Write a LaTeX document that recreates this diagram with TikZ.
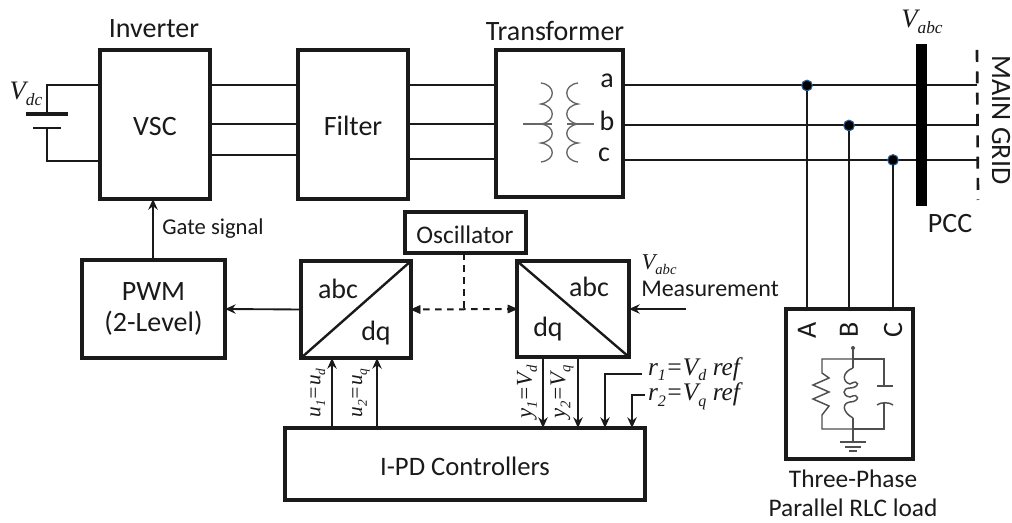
\documentclass[tikz,border=0pt]{standalone}
\usepackage{fontspec}
\setmainfont{Carlito}
\newfontfamily\tf{Liberation Serif}[Ligatures=TeX]
\usetikzlibrary{arrows.meta}
\definecolor{ink}{HTML}{1A1A1A}
\definecolor{coil}{HTML}{666666}
\definecolor{jring}{HTML}{2B5C94}
\newcommand{\fs}[1]{\fontsize{#1}{#1}\selectfont}
\newcommand{\mi}[2]{{\tf\itshape\fs{#1}#2}}
\newcommand{\msub}[3]{{\tf\itshape\fs{#1}#2\raisebox{-0.22em}{\fs{\the\numexpr #1*65/100\relax}#3}}}
\tikzset{
  block/.style={draw=ink,line width=2.6pt,rectangle,outer sep=0pt,inner sep=0pt,fill=white},
  wire/.style={draw=ink,line width=1.5pt},
  sig/.style={draw=ink,line width=1.4pt,-{Stealth[length=8pt,width=7pt]}},
  dsig/.style={draw=ink,line width=1.5pt,dash pattern=on 5pt off 4pt},
  coilline/.style={draw=coil,line width=1pt},
  loadline/.style={draw=coil!70!ink,line width=1.1pt},
  big/.style={font=\fs{21}\color{ink},inner sep=0pt,outer sep=0pt},
  mid/.style={font=\fs{19}\color{ink},inner sep=0pt,outer sep=0pt},
  small/.style={font=\fs{17}\color{ink},inner sep=0pt,outer sep=0pt},
  lab/.style={inner sep=0pt,outer sep=0pt,text=ink},
  junction/.style={circle,fill=black,draw=jring,line width=0.8pt,minimum size=8pt,inner sep=0pt,outer sep=0pt},
}
\begin{document}
\begin{tikzpicture}[x=0.75pt,y=-0.75pt]
\useasboundingbox (0,0) rectangle (1012,523);
\fill[white] (0,0) rectangle (1012,523);
% level helpers
\coordinate (ya) at (0,85);
\coordinate (yb) at (0,124.5);
\coordinate (yc) at (0,155);
\coordinate (yd) at (0,159);
\coordinate (ra) at (0,85.5);
\coordinate (rb) at (0,125.5);
\coordinate (rc) at (0,160);
\coordinate (xa) at (807,0);
\coordinate (xb) at (849,0);
\coordinate (xc) at (893,0);
% blocks
\node[block,minimum width=110pt*0.75,minimum height=149pt*0.75] (vsc) at (155,124.5) {};
\node[block,minimum width=110pt*0.75,minimum height=149pt*0.75] (filter) at (353,124.5) {};
\node[block,minimum width=127pt*0.75,minimum height=147pt*0.75] (trafo) at (559.5,123.5) {};
\node[block,minimum width=121pt*0.75,minimum height=41pt*0.75] (osc) at (465.5,232.5) {};
\node[block,minimum width=110pt*0.75,minimum height=97pt*0.75] (abcl) at (356,309.5) {};
\node[block,minimum width=112pt*0.75,minimum height=96pt*0.75] (abcr) at (573,309) {};
\node[block,minimum width=143pt*0.75,minimum height=98pt*0.75] (pwm) at (153.5,309) {};
\node[block,minimum width=360pt*0.75,minimum height=72pt*0.75] (ipd) at (465,464) {};
\node[block,minimum width=127pt*0.75,minimum height=150pt*0.75] (load) at (849.5,384) {};
\coordinate (gridtop) at (977,50);
\coordinate (gridbot) at (978,200);
\draw[line width=2pt,draw=ink,dash pattern=on 9pt off 7pt] (gridtop) -- (gridbot);
% block labels
\node[big] (tinv) at (154,29) {Inverter};
\node[big] (tvsc) at (155,127) {VSC};
\node[big] (tfil) at (353,126) {Filter};
\node[big] (ttra) at (555,31) {Transformer};
\node[big] (ta) at (607,81) {a};
\node[big] (tb) at (607,121) {b};
\node[big] (tc) at (604,155) {c};
\node[small] (tgate) at (213,229) {Gate signal};
\node[big,align=center] (tpwm) at (153.5,309) {PWM\\[2pt](2-Level)};
\node[mid] (tosc) at (465,235) {Oscillator};
\node[big] (tabcl) at (338,289) {abc};
\node[big] (tdql) at (376,333) {dq};
\node[big] (tabcr) at (589,287) {abc};
\node[big] (tdqr) at (548,329) {dq};
\node[font=\fs{18}\color{ink},inner sep=0pt,outer sep=0pt] (tmeas) at (710,289) {Measurement};
\node[font=\fs{20}\color{ink},inner sep=0pt,outer sep=0pt] (tipd) at (465,466) {I-PD Controllers};
\node[big] (tpcc) at (950,224) {PCC};
\node[big,rotate=-90] (tgrid) at (1001,120) {MAIN GRID};
\node[big,rotate=90] (tA) at (807,330) {A};
\node[big,rotate=90] (tB) at (849,330) {B};
\node[big,rotate=90] (tC) at (893,330) {C};
\node[mid] (tl1) at (853,479) {Three-Phase};
\node[mid] (tl2) at (853,508) {Parallel RLC load};
\node[lab] (tvdc) at (26,94) {\msub{20}{V}{dc}};
\node[lab] (tvabc) at (922,22) {\msub{20}{V}{abc}};
\node[lab] (tvabcm) at (659,265) {\msub{17}{V}{abc}};
\node[lab,anchor=west] (tr1) at (648,369) {\mi{19}{r}\msub{19}{\kern0pt}{1}\mi{19}{=}\msub{19}{V}{d}\mi{19}{ ref}};
\node[lab,anchor=west] (tr2) at (648,396) {\mi{19}{r}\msub{19}{\kern0pt}{2}\mi{19}{=}\msub{19}{V}{q}\mi{19}{ ref}};
\node[lab,rotate=90] (tu1) at (318,393) {\msub{16}{u}{1}\mi{16}{=}\msub{16}{u}{d}};
\node[lab,rotate=90] (tu2) at (361,393) {\msub{16}{u}{2}\mi{16}{=}\msub{16}{u}{q}};
\node[lab,rotate=90] (ty1) at (527,392) {\msub{17}{y}{1}\mi{17}{=}\msub{17}{V}{d}};
\node[lab,rotate=90] (ty2) at (562,392) {\msub{17}{y}{2}\mi{17}{=}\msub{17}{V}{q}};
% three-phase connectors
\draw[wire] (vsc.east |- ya) -- (filter.west |- ya);
\draw[wire] (vsc.east |- yb) -- (filter.west |- yb);
\draw[wire] (vsc.east |- yc) -- (filter.west |- yc);
\draw[wire] (filter.east |- ya) -- (trafo.west |- ya);
\draw[wire] (filter.east |- yb) -- (trafo.west |- yb);
\draw[wire] (filter.east |- yd) -- (trafo.west |- yd);
\draw[wire] (trafo.east |- ra) -- (gridtop |- ra);
\draw[wire] (trafo.east |- rb) -- (gridtop |- rb);
\draw[wire] (trafo.east |- rc) -- (gridtop |- rc);
\node[draw=none,fill=black,minimum width=11pt*0.75,minimum height=162pt*0.75,inner sep=0pt,outer sep=0pt] (pcc) at (921.5,125) {};
\node[junction] (ja) at (xa |- ra) {};
\node[junction] (jb) at (xb |- rb) {};
\node[junction] (jc) at (xc |- rc) {};
\draw[wire] (ja) -- (load.north -| ja);
\draw[wire] (jb) -- (load.north -| jb);
\draw[wire] (jc) -- (load.north -| jc);
% DC source
\coordinate (platea) at (47,114);
\coordinate (plateb) at (47,128);
\coordinate (ydc) at (0,161);
\draw[wire] (vsc.west |- ya) -- (platea |- ya) -- (platea);
\draw[wire] (vsc.west |- ydc) -- (plateb |- ydc) -- (plateb);
\draw[draw=ink,line width=3pt] ([xshift=-21*0.75pt]platea) -- ([xshift=21*0.75pt]platea);
\draw[draw=ink,line width=2.2pt] ([xshift=-14*0.75pt]plateb) -- ([xshift=14*0.75pt]plateb);
% transformer symbol
\begin{scope}[coilline]
\draw (541,83) .. controls (556,85) and (556,101) .. (541,104) .. controls (556,106) and (556,122) .. (541,124) .. controls (556,126) and (556,141) .. (541,143) .. controls (556,145) and (556,160) .. (541,162);
\draw (578,83) .. controls (563,85) and (563,101) .. (578,104) .. controls (563,106) and (563,122) .. (578,124) .. controls (563,126) and (563,141) .. (578,143) .. controls (563,145) and (563,160) .. (578,162);
\draw (523,124) -- (552,124);
\draw (567,124) -- (594,124);
\end{scope}
% control connectors
\coordinate (xgate) at (153,0);
\coordinate (xosc) at (464,0);
\coordinate (ymid) at (0,309);
\coordinate (xu1) at (332,0);
\coordinate (xu2) at (377,0);
\coordinate (xy1) at (543,0);
\coordinate (xy2) at (578,0);
\coordinate (xr1) at (605,0);
\coordinate (xr2) at (632,0);
\draw[sig] (pwm.north -| xgate) -- (vsc.south -| xgate);
\draw[sig] (abcl.west) -- (pwm.east);
\draw[dsig] (osc.south -| xosc) -- (xosc |- ymid);
\draw[dsig] (abcl.east) -- (abcr.west);
\draw[draw=ink,fill=ink] (abcl.east) -- ++(9*0.75pt,-4*0.75pt) -- ++(0,8*0.75pt) -- cycle;
\draw[draw=ink,fill=ink] (abcr.west) -- ++(-9*0.75pt,-4*0.75pt) -- ++(0,8*0.75pt) -- cycle;
\draw[draw=ink,line width=1.8pt] (abcl.south west) -- (abcl.north east);
\draw[draw=ink,line width=1.8pt] (abcr.north west) -- (abcr.south east);
\coordinate (mstart) at (686,309);
\draw[sig] (mstart) -- (abcr.east);
\draw[sig] (ipd.north -| xu1) -- (abcl.south -| xu1);
\draw[sig] (ipd.north -| xu2) -- (abcl.south -| xu2);
\draw[sig] (abcr.south -| xy1) -- (ipd.north -| xy1);
\draw[sig] (abcr.south -| xy2) -- (ipd.north -| xy2);
\coordinate (r1s) at (642,374);
\coordinate (r2s) at (645,395);
\draw[sig] (r1s) -- (xr1 |- r1s) -- (ipd.north -| xr1);
\draw[sig] (r2s) -- (xr2 |- r2s) -- (ipd.north -| xr2);
% RLC load
\begin{scope}[loadline]
\fill[coil!70!ink] (853,348) circle (1.5pt);
\draw (853,348) -- (853,368);
\draw (853,359) -- (822,359) -- (822,373) -- (829,378) -- (813,385) -- (829,392) -- (813,399) -- (829,406) -- (822,415) -- (822,429) -- (853,429);
\draw (853,359) -- (884,359) -- (884,386);
\draw (877,386) -- (893,386);
\draw (877,405) .. controls (880,402) and (890,402) .. (893,405);
\draw (884,403) -- (884,429) -- (853,429);
\draw (853,368) .. controls (842,372) and (842,382) .. (850,384) .. controls (860,378) and (860,388) .. (850,388) .. controls (842,388) and (842,396) .. (850,397) .. controls (860,392) and (860,402) .. (850,402) .. controls (842,403) and (842,412) .. (853,418);
\draw (853,418) -- (853,442);
\draw (840,442) -- (866,442);
\draw (845,447) -- (861,447);
\draw (849,451) -- (857,451);
\end{scope}
\end{tikzpicture}
\end{document}
